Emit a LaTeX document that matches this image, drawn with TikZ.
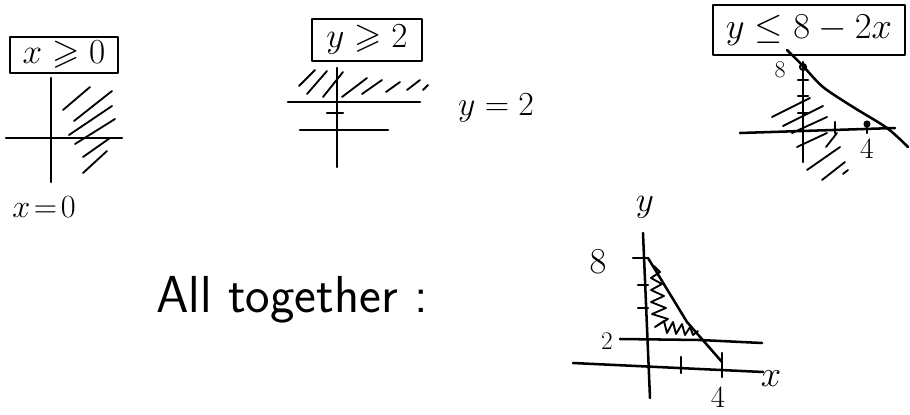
\RequirePackage{fix-cm}
\documentclass[tikz,border=0pt]{standalone}
\usepackage{amssymb}
\usetikzlibrary{positioning, calc}

\begin{document}
\begin{tikzpicture}[
      x=0.025cm, y=-0.025cm,
      line cap=round, line join=round,
      axis/.style={line width=1.8pt},
      hatch/.style={line width=1.3pt},
      tickmark/.style={line width=1.5pt},
      condbox/.style={
          draw,
          line width=1.8pt,
          inner sep=0pt,
          font=\fontsize{25}{27}\selectfont
      },
      lbl/.style={inner sep=1pt, font=\fontsize{#1}{#1}\selectfont},
      lbl/.default=20
  ]
      \useasboundingbox (0,0) rectangle (910,415);

      % --- Panel 1: x >= 0 ---
      \node[condbox, minimum width=2.7cm, minimum height=0.9cm] (xbox) at (64,55) {$x \geqslant 0$};
      \draw[axis] (51,78) -- (51,182);
      \draw[axis] (6,138) -- (122,138);
      \foreach \a/\b/\c/\d in {63/110/90/87, 74/121/112/91, 69/135/112/106,
                               75/144/115/119, 83/157/110/138, 83/173/107/151}
          \draw[hatch] (\a,\b) -- (\c,\d);
      \node[lbl=23] (xzero) at (44,207) {$x\!=\!0$};

      % --- Panel 2: y >= 2 ---
      \node[condbox, minimum width=2.75cm, minimum height=1.05cm] (ybox) at (367,40) {$y \geqslant 2$};
      \draw[axis] (337,68) -- (337,167);
      \draw[axis] (288,102) -- (420,102);
      \draw[axis] (300,130) -- (388,130);
      \draw[tickmark] (327,113) -- (343,113);
      \foreach \a/\b/\c/\d in {299/86/315/70, 307/94/327/71, 323/97/343/72, 342/97/367/78,
                               362/94/382/80, 386/92/400/82, 407/90/420/80, 423/90/428/85}
          \draw[hatch] (\a,\b) -- (\c,\d);
      \node[lbl=24] (ytwo) at (496,108) {$y = 2$};

      % --- Panel 3: y <= 8 - 2x ---
      \node[condbox, minimum width=4.8cm, minimum height=1.25cm,
            font=\fontsize{26}{28}\selectfont] (lbox) at (809,30) {$y \leq 8 - 2x$};
      \draw[axis] (803,62) -- (803,162);
      \draw[axis] (740,133) -- (895,128);
      \foreach \h in {80,96,113}
          \draw[tickmark] (798,\h) -- (808,\h);
      \draw[tickmark] (835,122) -- (835,133);
      \draw[tickmark] (867,122) -- (867,133);
      \draw[tickmark] (803,67) circle[radius=3];
      \draw[tickmark] (867,124) circle[radius=2.5];
      \node[lbl=17] (eightA) at (780,70) {$8$};
      \node[lbl=21] (fourA) at (867,149) {$4$};
      \draw[axis] plot[smooth] coordinates {(787,50) (803,66) (823,87) (853,107) (887,128) (908,147)};
      \foreach \a/\b/\c/\d in {772/117/810/98, 783/126/823/106, 792/133/827/117, 797/147/827/133,
                               826/147/837/133, 807/170/840/147, 822/180/845/162, 843/174/848/170}
          \draw[hatch] (\a,\b) -- (\c,\d);

      % --- All together ---
      \node[font=\sffamily\fontsize{37}{37}\selectfont] (together) at (292,300) {All together :};

      % --- Panel 4: combined region ---
      \node[lbl=25] (ylab) at (645,207) {$y$};
      \draw[axis] (643,233) -- (650,398);
      \draw[axis] (573,363) -- (763,372);
      \draw[axis] (620,339) -- (700,340) -- (762,343);
      \draw[tickmark] (633,258) -- (648,258);
      \foreach \h in {285,308}
          \draw[tickmark] (638,\h) -- (648,\h);
      \draw[tickmark] (681,357) -- (681,373);
      \draw[tickmark] (722,353) -- (722,377);
      \draw[axis] (648,258) -- (687,322) -- (722,362);
      \draw[hatch] (654,266) -- (660,272) -- (651,278) -- (662,284) -- (651,290)
          -- (664,296) -- (651,302) -- (666,308) -- (652,314) -- (668,319)
          -- (655,327) -- (664,321) -- (667,333) -- (673,322) -- (676,334)
          -- (682,324) -- (685,335) -- (690,327) -- (693,335) -- (698,331);
      \node[lbl=26] (eightB) at (598,262) {$8$};
      \node[lbl=18] (twoB) at (607,341) {$2$};
      \node[lbl=22, inner sep=0pt] (fourB) at (718,398) {$4$};
      \node[lbl=26] (xlab) at (771,379) {$x$};
  \end{tikzpicture}
\end{document}
